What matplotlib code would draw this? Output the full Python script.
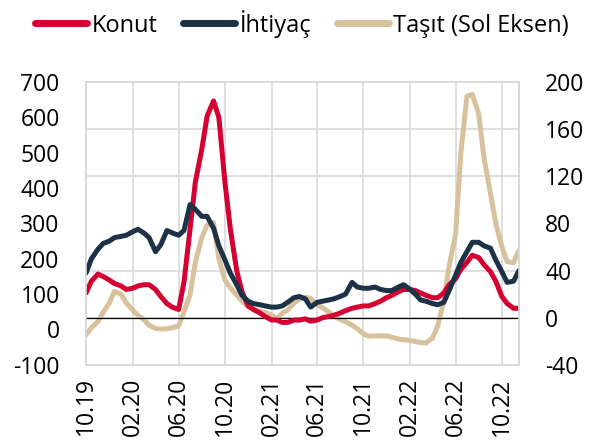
import matplotlib

matplotlib.use("Agg")
import matplotlib.dates as mdates
import matplotlib.pyplot as plt
import pandas as pd

RED, NAVY, TAN = "#D50032", "#1D3247", "#D8C29D"
GRID = "#D9D9D9"

plt.rcParams["font.family"] = ["Open Sans", "DejaVu Sans"]
plt.rcParams["axes.unicode_minus"] = False

# semi-monthly observations, Oct 2019 -> mid Nov 2022
dates = pd.date_range("2019-10-01", periods=76, freq="SMS")

# right axis
ihtiyac = [38, 50, 58, 63, 65, 68, 69, 70, 73, 75, 72, 68, 56, 62, 74, 72,
           70, 74, 96, 92, 86, 86, 76, 61, 49, 38, 28, 19, 14, 12, 11, 10,
           9, 9, 10, 13, 17, 18, 16, 9, 13, 14, 15, 16, 18, 20, 30, 26,
           25, 25, 26, 24, 23, 23, 26, 28, 24, 20, 15, 14, 12, 11, 13, 23,
           36, 47, 56, 64, 64, 61, 59, 49, 39, 30, 31, 40]
konut = [21, 31, 37, 35, 32, 29, 27, 24, 25, 27, 28, 28, 24, 18, 12, 9,
         7, 30, 75, 115, 143, 171, 184, 170, 115, 76, 40, 22, 10, 7, 4, 1,
         -2, -2, -4, -4, -2, -2, -1, -3, -2, 0, 1, 2, 4, 6, 8, 9,
         10, 10, 12, 14, 17, 19, 22, 24, 24, 23, 21, 19, 17, 17, 21, 28,
         33, 41, 47, 53, 51, 45, 39, 31, 18, 12, 8, 8]
# left axis
tasit = [-15, 5, 22, 48, 75, 108, 100, 75, 55, 40, 28, 12, 3, 1, 2, 5,
         10, 50, 98, 190, 260, 295, 303, 200, 140, 118, 98, 80, 65, 57, 52, 48,
         41, 30, 46, 55, 75, 86, 91, 88, 70, 62, 50, 38, 28, 22, 12, 2,
         -12, -19, -18, -18, -18, -22, -27, -29, -31, -34, -37, -38, -25, 10, 80, 180,
         270, 500, 660, 665, 610, 485, 385, 300, 235, 192, 189, 224]

L_LIM, R_LIM = (-100, 700), (-40, 200)
r_ticks = list(range(-40, 201, 40))


def right_to_left(v):
    return L_LIM[0] + (v - R_LIM[0]) * (L_LIM[1] - L_LIM[0]) / (R_LIM[1] - R_LIM[0])


fig = plt.figure(figsize=(6.02, 4.46), dpi=100)
ax = fig.add_axes([0.143, 0.182, 0.719, 0.634])
ax2 = ax.twinx()

ax.plot(dates, tasit, color=TAN, lw=3.6, solid_capstyle="round", label="Taşıt (Sol Eksen)")
ax2.axhline(0, color="black", lw=0.9)
ax2.plot(dates, konut, color=RED, lw=3.6, solid_capstyle="round", label="Konut")
ax2.plot(dates, ihtiyac, color=NAVY, lw=3.6, solid_capstyle="round", label="İhtiyaç")

ax.set_ylim(*L_LIM)
ax2.set_ylim(*R_LIM)
ax.set_yticks(range(-100, 701, 100))
ax2.set_yticks(r_ticks)
# gridlines follow the right axis but are drawn beneath everything
ax.set_yticks([right_to_left(v) for v in r_ticks], minor=True)
ax.grid(axis="y", which="minor", color=GRID, lw=1.2)
ax.grid(axis="x", which="major", color=GRID, lw=1.2)
ax.set_axisbelow(True)

ax.set_xlim(dates[0], dates[-1])
ax.xaxis.set_major_locator(mdates.MonthLocator(bymonth=[2, 6, 10]))
ax.xaxis.set_major_formatter(mdates.DateFormatter("%m.%y"))
for lbl in ax.get_xticklabels():
    lbl.set_rotation(90)

ax.tick_params(axis="y", which="both", length=0, labelsize=16.5, pad=19)
ax.tick_params(axis="x", length=0, labelsize=16.5, pad=9)
ax2.tick_params(axis="y", length=0, labelsize=16.5, pad=19)

for a in (ax, ax2):
    for s in a.spines.values():
        s.set_color(GRID)
        s.set_linewidth(1.2)

handles = [ax2.lines[1], ax2.lines[2], ax.lines[0]]
leg = fig.legend(handles, [h.get_label() for h in handles], loc="upper left",
                 bbox_to_anchor=(0.035, 1.01), ncol=3, frameon=False, fontsize=17,
                 handlelength=2.2, handletextpad=0.18, columnspacing=1.1,
                 borderaxespad=0.2)
for h in leg.get_lines():
    h.set_linewidth(5)

fig.savefig("out.png", dpi=100)
